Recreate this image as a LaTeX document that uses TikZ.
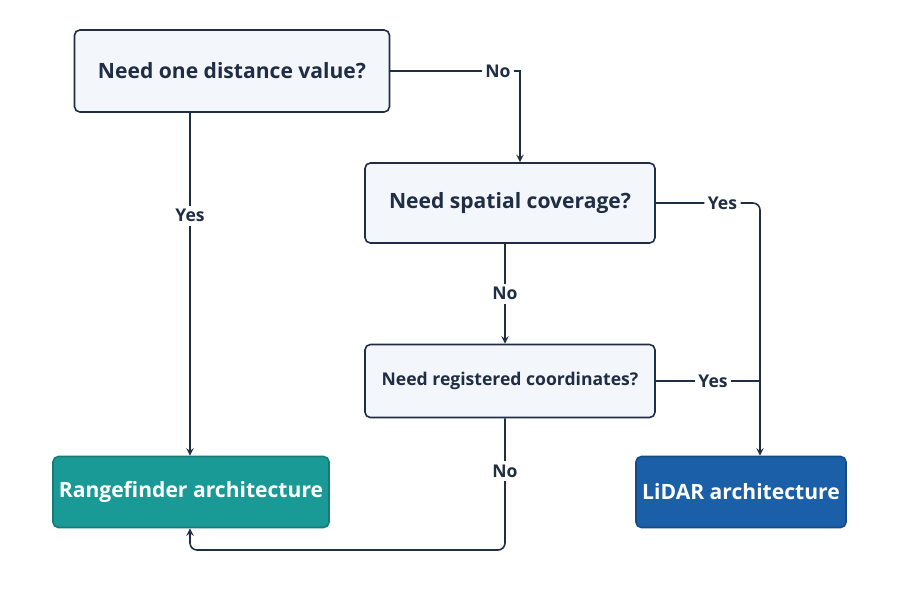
\documentclass[tikz,border=0pt]{standalone}
\usepackage{fontspec}
\setmainfont{Open Sans}
\usepackage{tikz}
\usetikzlibrary{positioning}
\definecolor{navy}{HTML}{1F2D45}
\definecolor{paper}{HTML}{F3F6FA}
\definecolor{teal}{HTML}{1A9A96}
\definecolor{lidar}{HTML}{1A5FA8}

\begin{document}
\begin{tikzpicture}[%
    x=0.02cm,y=-0.02cm,->,>=stealth,line width=0.9pt,draw=navy,
    question/.style={%
      rectangle,rounded corners=3pt,draw=navy,fill=paper,text=navy,
      font=\large\bfseries,minimum height=1.5cm},
    answer/.style={%
      rectangle,rounded corners=3pt,draw=#1!80!black,fill=#1,text=white,
      font=\large\bfseries,minimum width=4.2cm,minimum height=1.42cm},
    tag/.style={fill=white,text=navy,font=\normalsize\bfseries,inner sep=2pt}
  ]
    \useasboundingbox (0,0) rectangle (900,600);
    \node[question,minimum width=6.3cm,minimum height=1.64cm] (one)   at (232,71)  {Need one distance value?};
    \node[question,minimum width=5.8cm,minimum height=1.6cm] (space) at (510,203) {Need spatial coverage?};
    \node[question,minimum width=5.8cm,minimum height=1.46cm,font=\normalsize\bfseries] (reg) at (510,381) {Need registered coordinates?};
    \node[answer=teal,minimum width=5.14cm]  (range) at (191,492) {Rangefinder architecture};
    \node[answer=lidar] (lid) at (741,492) {LiDAR architecture};

    \coordinate (c1) at (520,71);
    \coordinate (c2) at (760,203);
    \coordinate (c3) at (505,550);
    \coordinate (c4) at (190,550);
    \coordinate (v1) at (190,0);
    \coordinate (v2) at (505,0);

    \draw (one.east) -- node[tag,pos=0.83] {No} (c1) -- (space.north -| c1);
    \draw (one.south -| v1) -- node[tag,pos=0.3] {Yes} (range.north -| v1);
    \draw[rounded corners=4pt] (space.east) -- node[tag,pos=0.64] {Yes} (c2) -- (lid.north -| c2);
    \draw (space.south -| v2) -- node[tag] {No} (reg.north -| v2);
    \draw[-] (reg.east) -- node[tag,pos=0.55] {Yes} (reg.east -| c2);
    \draw[rounded corners=4pt] (reg.south -| c3) -- node[tag,pos=0.4] {No} (c3) -- (c4) -- (range.south -| c4);
\end{tikzpicture}
\end{document}
